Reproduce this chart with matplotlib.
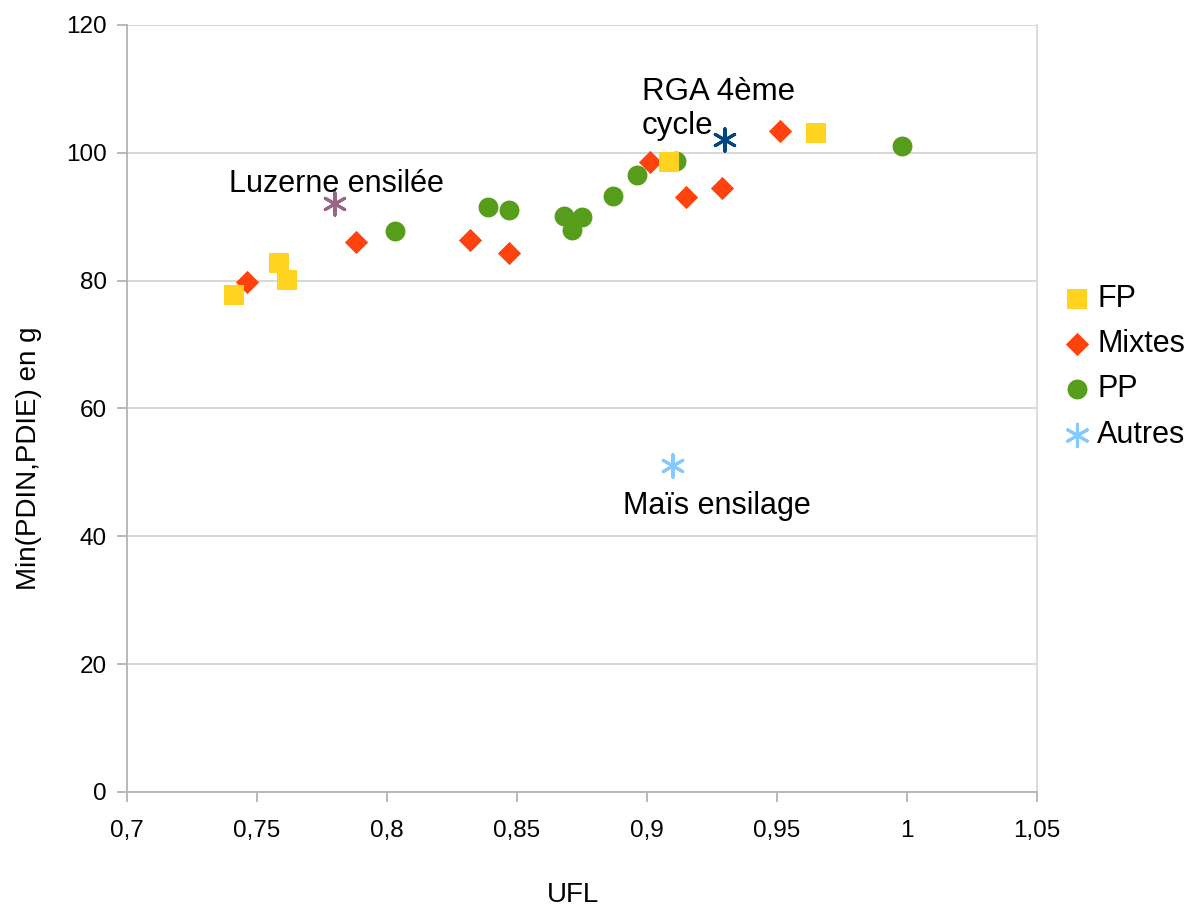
import matplotlib.pyplot as plt
from matplotlib.ticker import FuncFormatter

plt.rcParams['font.family'] = ['Liberation Sans', 'DejaVu Sans']

# FP
fp_x = [0.741, 0.7585, 0.7615, 0.9085, 0.965]
fp_y = [77.8, 82.8, 80.1, 98.6, 103.1]

# Mixtes
mix_x = [0.746, 0.788, 0.832, 0.847, 0.901, 0.915, 0.929, 0.951]
mix_y = [79.8, 86.1, 86.4, 84.4, 98.6, 93.1, 94.5, 103.4]

# PP
pp_x = [0.803, 0.839, 0.847, 0.868, 0.875, 0.871, 0.887, 0.896, 0.911, 0.998]
pp_y = [87.8, 91.5, 91.1, 90.1, 89.9, 87.9, 93.3, 96.6, 98.7, 101.1]

# Autres
autres_x = [0.78, 0.93, 0.91]
autres_y = [92, 102, 51]
autres_labels = ['Luzerne ensilée', 'RGA 4ème\ncycle', 'Maïs ensilage']
autres_colors = ['#996688', '#004586', '#83CAFF']

fig = plt.figure(figsize=(11.9, 9.08), dpi=100)
ax = fig.add_axes([0.1067, 0.1278, 0.7647, 0.8447])

# FP drawn on top of the others, like in the original
ax.scatter(fp_x, fp_y, marker='s', s=210, color='#FFD320', label='FP', zorder=6, linewidths=0)
ax.scatter(mix_x, mix_y, marker='D', s=140, color='#FF420E', label='Mixtes', zorder=5, linewidths=0)
ax.scatter(pp_x, pp_y, marker='o', s=205, color='#579D1C', label='PP', zorder=4, linewidths=0)
ax.scatter(autres_x, autres_y, marker=(6, 2, 0), s=260, c=autres_colors, linewidths=2.2, zorder=3)
# legend entry for Autres
ax.scatter([], [], marker=(6, 2, 0), s=260, color='#83CAFF', linewidths=2.2, label='Autres')

# point labels
ax.text(0.7805, 93.9, autres_labels[0], fontsize=22, ha='center', va='baseline')
ax.text(0.898, 101.8, autres_labels[1], fontsize=22.5, ha='left', va='bottom', linespacing=1.2)
ax.text(0.927, 43.5, autres_labels[2], fontsize=22, ha='center', va='baseline')

ax.set_xlim(0.7, 1.05)
ax.set_ylim(0, 120)
ax.set_xticks([0.7, 0.75, 0.8, 0.85, 0.9, 0.95, 1.0, 1.05])
ax.set_yticks(range(0, 121, 20))
ax.xaxis.set_major_formatter(FuncFormatter(lambda v, p: ('%g' % round(v, 2)).replace('.', ',')))
ax.tick_params(axis='both', labelsize=17.5, length=7, width=1.3, color='#b3b3b3', pad=7.5)
ax.tick_params(axis='x', pad=13)
ax.grid(axis='y', color='#d4d4d4', linewidth=1.3)
ax.set_axisbelow(True)
ax.spines['left'].set_color('#b3b3b3')
ax.spines['bottom'].set_color('#b3b3b3')
ax.spines['left'].set_linewidth(1.3)
ax.spines['bottom'].set_linewidth(1.3)
ax.spines['right'].set_color('#d9d9d9')
ax.spines['right'].set_linewidth(1.3)
ax.spines['top'].set_visible(False)

ax.set_xlabel('UFL', fontsize=20)
ax.set_ylabel('Min(PDIN,PDIE) en g', fontsize=20)
ax.xaxis.label.set_va('center')
ax.yaxis.label.set_va('center')
ax.xaxis.set_label_coords(0.49, -0.134)
ax.yaxis.set_label_coords(-0.108, 0.435)

leg = fig.legend(loc='center left', bbox_to_anchor=(0.8924, 0.596), frameon=False, fontsize=22,
                 handletextpad=0.15, labelspacing=0.5, handlelength=1.0, borderaxespad=0,
                 borderpad=0, scatterpoints=1)

fig.savefig('out.png', dpi=100)
